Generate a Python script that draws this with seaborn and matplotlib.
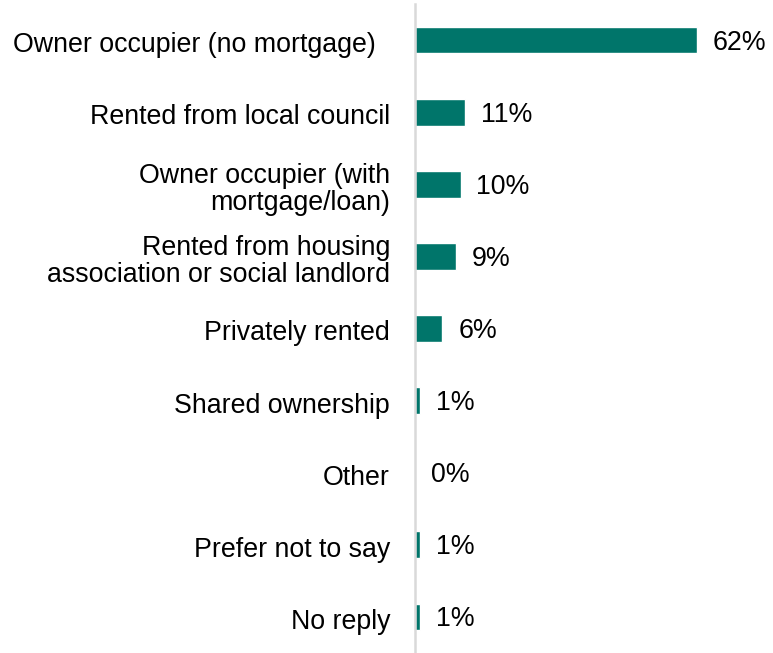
import matplotlib
matplotlib.use("Agg")
import matplotlib.pyplot as plt
from matplotlib.transforms import ScaledTranslation
import seaborn as sns
import pandas as pd

categories = [
    "Owner occupier (no mortgage)",
    "Rented from local council",
    "Owner occupier (with\nmortgage/loan)",
    "Rented from housing\nassociation or social landlord",
    "Privately rented",
    "Shared ownership",
    "Other",
    "Prefer not to say",
    "No reply",
]
values = [62, 11, 10, 9, 6, 1, 0, 1, 1]
value_labels = ["62%", "11%", "10%", "9%", "6%", "1%", "0%", "1%", "1%"]

sns.set_theme(style="white")
plt.rcParams["font.family"] = ["Liberation Sans", "DejaVu Sans"]

df = pd.DataFrame({"tenure": categories, "share": values})

fig = plt.figure(figsize=(7.73, 6.53), dpi=100)
ax = fig.add_axes([415 / 773, 0.0, 1 - 415 / 773, 1 - 4 / 653])

sns.barplot(data=df, y="tenure", x="share", orient="h", color="#00756A",
            saturation=1, width=0.37, ax=ax)

ax.set_xlim(0, 358 / 4.55)
ax.set_ylim(len(categories) - 0.5, -0.5)
ax.set_xlabel("")
ax.set_ylabel("")
ax.set_xticks([])

for side in ["top", "right", "bottom"]:
    ax.spines[side].set_visible(False)
ax.spines["left"].set_color("#D9D9D9")
ax.spines["left"].set_linewidth(1.8)

ax.tick_params(axis="y", length=0, pad=18, labelsize=19.3, labelcolor="#000000")
for i, lbl in enumerate(ax.get_yticklabels()):
    lbl.set_linespacing(1.05)
    lbl.set_horizontalalignment("right")
    dx = -14 / 100 if i == 0 else 0
    lbl.set_transform(lbl.get_transform()
                      + ScaledTranslation(dx, -2 / 100, fig.dpi_scale_trans))

for i, (v, t) in enumerate(zip(values, value_labels)):
    ax.annotate(t, xy=(v, i), xytext=(11.5, -1.8), textcoords="offset points",
                ha="left", va="center", fontsize=19.3, color="#000000")

fig.savefig("out.png", dpi=100)
